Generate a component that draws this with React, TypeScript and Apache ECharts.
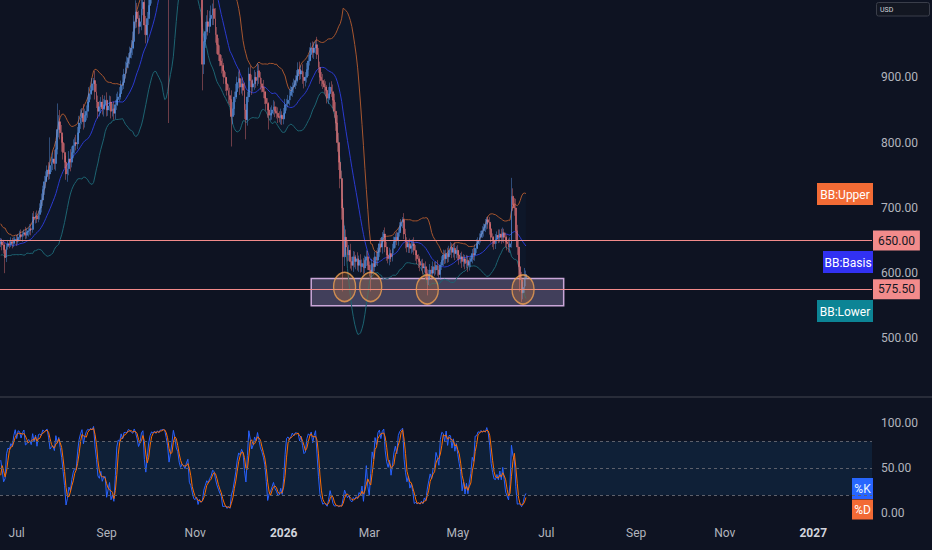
import React, { useEffect, useRef } from "react";
import * as echarts from "echarts";

// ---------- data ----------
const START_DATE = "2025-06-20";
const AXIS_DAYS = 601;

const PRE_CLOSE = [670, 675, 668, 662, 672, 665, 655, 650, 660, 648, 640, 652, 645, 635, 642, 655, 648, 638, 630, 645];
const PRE_HIGH = [678, 682, 677, 670, 678, 674, 666, 658, 666, 660, 650, 658, 654, 646, 650, 662, 658, 648, 640, 651];
const PRE_LOW = [662, 666, 660, 655, 660, 658, 650, 644, 648, 642, 634, 640, 638, 628, 632, 640, 640, 630, 622, 628];

const CLOSE = [
  648, 643, 636, 624, 641, 645, 644, 648, 646, 650,
  652, 649, 655, 659, 656, 660, 662, 658, 663, 665,
  668, 667, 686, 684, 688, 683, 690, 700, 712, 728,
  740, 748, 758, 752, 765, 770, 775, 768, 790, 820,
  832, 815, 800, 785, 770, 752, 760, 775, 770, 785,
  795, 800, 798, 815, 830, 838, 845, 832, 842, 848,
  862, 875, 880, 890, 895, 878, 862, 848, 855, 862,
  852, 858, 865, 850, 856, 862, 848, 852, 845, 858,
  866, 870, 875, 888, 892, 905, 915, 922, 930, 938,
  945, 955, 985, 1000, 990, 978, 985, 1005, 1015, 980,
  965, 990, 1010, 1025, 1040, 1055, 1080, 1110, 1150, 1170,
  1200, 1230, 1290, 1310, 1280, 1250, 1120, 1170, 1230, 1300,
  1260, 1200, 1180, 1120, 1090, 1110, 1100, 1080, 1110, 1130,
  1150, 1140, 1120, 1100, 1090, 1085, 1070, 1060, 1040, 920,
  955, 970, 985, 978, 990, 995, 1005, 990, 965, 950,
  935, 925, 918, 910, 900, 890, 880, 872, 866, 840,
  852, 870, 878, 892, 898, 885, 890, 880, 850, 835,
  870, 905, 895, 885, 890, 900, 895, 910, 900, 890,
  885, 878, 868, 860, 850, 842, 845, 850, 855, 848,
  845, 840, 838, 842, 836, 845, 858, 860, 865, 872,
  878, 885, 888, 895, 902, 912, 905, 910, 900, 895,
  900, 912, 925, 935, 945, 938, 945, 950, 935, 915,
  900, 895, 890, 885, 880, 868, 875, 885, 878, 865,
  848, 830, 800, 770, 745, 700, 625, 655, 640, 628,
  635, 618, 612, 625, 618, 622, 612, 620, 610, 615,
  608, 620, 625, 612, 605, 600, 615, 610, 625, 620,
  632, 645, 640, 655, 660, 640, 628, 622, 630, 625,
  638, 648, 655, 650, 662, 672, 678, 682, 660, 648,
  640, 645, 638, 642, 645, 635, 628, 622, 618, 612,
  615, 608, 610, 600, 590, 598, 605, 600, 610, 605,
  612, 605, 598, 612, 620, 628, 622, 630, 625, 635,
  640, 632, 638, 630, 635, 628, 622, 625, 618, 622,
  615, 620, 612, 618, 622, 630, 628, 638, 645, 650,
  655, 660, 665, 670, 675, 682, 678, 668, 655, 650,
  645, 652, 658, 655, 660, 655, 662, 655, 648, 645,
  640, 645, 718, 705, 700, 665, 640, 610, 590, 570,
  578, 592, 598,
];

const UPPER_WICK = [
  6, 5, 8, 10, 4, 6, 5, 7, 6, 5,
  4, 7, 5, 6, 8, 4, 5, 9, 6, 5,
  7, 8, 6, 9, 5, 8, 6, 7, 10, 6,
  9, 8, 7, 12, 43, 8, 10, 14, 12, 40,
  10, 18, 12, 9, 14, 10, 8, 12, 15, 9,
  10, 8, 12, 9, 11, 13, 8, 14, 10, 9,
  8, 10, 7, 9, 4, 15, 12, 10, 9, 8,
  11, 9, 7, 12, 8, 10, 9, 8, 11, 7,
  9, 8, 10, 7, 12, 8, 9, 10, 7, 9,
  12, 15, 10, 18, 14, 12, 10, 15, 12, 20,
  14, 10, 12, 15, 11, 14, 12, 20, 18, 25,
  20, 22, 25, 30, 24, 20, 10, 25, 30, 25,
  30, 25, 20, 28, 22, 18, 20, 25, 15, 18,
  20, 15, 18, 22, 16, 14, 18, 15, 20, 40,
  12, 15, 10, 18, 12, 15, 8, 14, 16, 12,
  10, 14, 9, 11, 12, 8, 10, 9, 12, 14,
  10, 8, 12, 9, 11, 14, 8, 10, 12, 9,
  8, 10, 12, 9, 7, 11, 8, 12, 10, 8,
  9, 11, 7, 10, 8, 12, 9, 7, 10, 8,
  7, 9, 8, 10, 6, 8, 9, 7, 8, 10,
  9, 7, 10, 8, 9, 11, 12, 8, 10, 9,
  8, 10, 9, 11, 8, 10, 9, 6, 12, 10,
  9, 8, 10, 7, 9, 8, 10, 7, 9, 11,
  10, 14, 12, 15, 10, 12, 14, 18, 12, 9,
  8, 10, 7, 9, 8, 6, 10, 7, 9, 6,
  8, 7, 10, 9, 6, 8, 7, 9, 8, 10,
  7, 6, 9, 8, 6, 10, 8, 7, 9, 6,
  7, 8, 6, 9, 7, 6, 5, 4, 10, 8,
  7, 6, 8, 9, 7, 10, 8, 6, 7, 8,
  6, 7, 5, 8, 6, 7, 9, 6, 8, 7,
  6, 8, 7, 5, 6, 8, 7, 6, 9, 7,
  8, 6, 7, 9, 6, 8, 7, 6, 8, 7,
  6, 8, 7, 6, 5, 7, 9, 6, 7, 5,
  6, 5, 7, 6, 8, 4, 5, 8, 7, 6,
  7, 8, 6, 9, 7, 8, 8, 6, 7, 10,
  8, 10, 28, 12, 10, 14, 9, 10, 8, 12,
  9, 16, 6,
];

const LOWER_WICK = [
  5, 8, 6, 24, 7, 5, 6, 4, 8, 6,
  5, 7, 4, 6, 5, 8, 4, 6, 5, 7,
  6, 9, 5, 7, 8, 6, 5, 8, 7, 9,
  8, 10, 7, 9, 8, 10, 12, 9, 11, 8,
  12, 10, 14, 11, 9, 9, 12, 10, 14, 8,
  9, 12, 10, 8, 11, 9, 10, 12, 9, 8,
  10, 8, 9, 7, 10, 12, 9, 11, 8, 10,
  9, 12, 8, 10, 9, 7, 11, 8, 10, 9,
  8, 10, 7, 9, 8, 10, 7, 9, 8, 10,
  9, 11, 12, 10, 14, 12, 11, 13, 10, 15,
  13, 12, 10, 14, 12, 10, 13, 15, 12, 18,
  15, 20, 18, 22, 25, 30, 290, 20, 18, 22,
  25, 30, 22, 28, 35, 20, 25, 22, 18, 20,
  15, 18, 20, 16, 22, 18, 15, 20, 18, 40,
  15, 10, 12, 14, 10, 12, 15, 10, 12, 14,
  10, 8, 12, 9, 10, 11, 8, 12, 9, 46,
  12, 10, 8, 11, 9, 12, 10, 8, 14, 30,
  9, 8, 10, 12, 7, 9, 11, 8, 10, 9,
  8, 10, 9, 11, 12, 22, 8, 10, 7, 9,
  8, 10, 7, 10, 9, 8, 7, 9, 6, 8,
  7, 8, 9, 6, 8, 10, 9, 8, 10, 12,
  9, 8, 10, 7, 9, 8, 10, 9, 7, 8,
  10, 9, 8, 10, 9, 8, 9, 10, 8, 12,
  10, 12, 14, 12, 15, 18, 53, 14, 12, 10,
  9, 11, 8, 10, 9, 12, 8, 10, 9, 8,
  10, 8, 9, 7, 10, 28, 8, 9, 7, 8,
  9, 7, 8, 10, 7, 8, 9, 7, 10, 8,
  7, 8, 9, 7, 8, 6, 7, 9, 8, 10,
  8, 9, 7, 8, 10, 7, 9, 8, 10, 9,
  8, 10, 7, 9, 24, 8, 7, 10, 8, 9,
  7, 9, 5, 8, 7, 9, 8, 7, 9, 8,
  7, 9, 8, 10, 7, 8, 9, 7, 10, 8,
  9, 7, 10, 8, 9, 7, 8, 9, 7, 8,
  7, 8, 6, 9, 7, 8, 10, 9, 8, 10,
  9, 8, 7, 9, 8, 10, 7, 9, 8, 10,
  8, 9, 6, 10, 12, 14, 12, 16, 18, 14,
  10, 8, 12,
];

const PRICE_TICKS = [500, 600, 700, 800, 900];
const STOCH_TICKS = [0, 50, 100];
const TIME_TICKS: [string, string][] = [
  ["2025-07-01", "Jul"], ["2025-09-01", "Sep"], ["2025-11-01", "Nov"], ["2026-01-01", "2026"],
  ["2026-03-01", "Mar"], ["2026-05-01", "May"], ["2026-07-01", "Jul"], ["2026-09-01", "Sep"],
  ["2026-11-01", "Nov"], ["2027-01-01", "2027"],
];
const LEVELS = [650, 575.5];
const SUPPORT_ZONE = { from: "2026-01-20", to: "2026-07-13", top: 592, bottom: 550 };
const TOUCHES: [string, number][] = [["2026-02-12", 579], ["2026-03-02", 579], ["2026-04-10", 575], ["2026-06-15", 575]];
const STOCH_LEVELS = [80, 50, 20];
const BB_LENGTH = 20;
const BB_MULT = 2;
const STOCH_K = 14;
const STOCH_D = 3;

// ---------- styles ----------
const BG = "#0e1322";
const FONT = "Roboto, 'Liberation Sans', sans-serif";
const AXIS_TEXT = "#b2b5be";

function buildDates(start: string, n: number): string[] {
  const [y, m, d] = start.split("-").map(Number);
  const out: string[] = [];
  for (let k = 0; k < n; k++) out.push(new Date(Date.UTC(y, m - 1, d + k)).toISOString().slice(0, 10));
  return out;
}

function tag(x: number, y: number, w: number, h: number, fill: string, text: string, color = "#ffffff") {
  return {
    type: "group", x, y, z: 100,
    children: [
      { type: "rect", shape: { x: 0, y: 0, width: w, height: h }, style: { fill } },
      { type: "text", x: w / 2, y: h / 2 + 0.5, style: { text, fill: color, fontSize: 12, fontFamily: FONT, align: "center", verticalAlign: "middle" } },
    ],
  };
}

function buildOption() {
  const cats = buildDates(START_DATE, AXIS_DAYS);
  const n = CLOSE.length;
  const opens = CLOSE.map((c, i) => (i === 0 ? PRE_CLOSE[PRE_CLOSE.length - 1] : CLOSE[i - 1]));
  const highs = CLOSE.map((c, i) => Math.max(opens[i], c) + (UPPER_WICK[i] || 0));
  const lows = CLOSE.map((c, i) => Math.min(opens[i], c) - (LOWER_WICK[i] || 0));
  const candles = CLOSE.map((c, i) => [opens[i], c, lows[i], highs[i]]);

  const allC = [...PRE_CLOSE, ...CLOSE];
  const allH = [...PRE_HIGH, ...highs];
  const allL = [...PRE_LOW, ...lows];
  const off = PRE_CLOSE.length;

  const upper: number[] = [], basis: number[] = [], lower: number[] = [], width: number[] = [];
  for (let i = 0; i < n; i++) {
    const idx = i + off;
    const w = allC.slice(Math.max(0, idx - BB_LENGTH + 1), idx + 1);
    const mean = w.reduce((a, b) => a + b, 0) / w.length;
    const sd = Math.sqrt(w.reduce((a, b) => a + (b - mean) * (b - mean), 0) / w.length);
    basis.push(mean);
    upper.push(mean + BB_MULT * sd);
    lower.push(mean - BB_MULT * sd);
    width.push(2 * BB_MULT * sd);
  }

  const kAll: number[] = [];
  for (let idx = 0; idx < allC.length; idx++) {
    const s = Math.max(0, idx - STOCH_K + 1);
    const hh = Math.max(...allH.slice(s, idx + 1));
    const ll = Math.min(...allL.slice(s, idx + 1));
    kAll.push(hh === ll ? 50 : (100 * (allC[idx] - ll)) / (hh - ll));
  }
  const kVis: number[] = [], dVis: number[] = [];
  for (let i = 0; i < n; i++) {
    const idx = i + off;
    kVis.push(kAll[idx]);
    const win = kAll.slice(idx - STOCH_D + 1, idx + 1);
    dVis.push(win.reduce((a, b) => a + b, 0) / win.length);
  }

  const tickMap = new Map(TIME_TICKS);

  return {
    animation: false,
    backgroundColor: BG,
    textStyle: { fontFamily: FONT },
    grid: [
      { left: 0, right: 60, top: 0, height: 396, containLabel: false, outerBoundsMode: "none" },
      { left: 0, right: 60, top: 398, height: 120, containLabel: false, outerBoundsMode: "none" },
    ],
    xAxis: [
      { type: "category", gridIndex: 0, data: cats, boundaryGap: true, show: false },
      {
        type: "category", gridIndex: 1, data: cats, boundaryGap: true,
        axisLine: { show: false }, axisTick: { show: false }, splitLine: { show: false },
        axisLabel: {
          interval: (_i: number, v: string) => tickMap.has(v),
          formatter: (v: string) => {
            const t = tickMap.get(v) || "";
            return /^\d{4}$/.test(t) ? `{y|${t}}` : t;
          },
          color: AXIS_TEXT, fontSize: 12, fontFamily: FONT, margin: 9,
          rich: { y: { fontWeight: "bold", color: "#d1d4dc", fontSize: 12, fontFamily: FONT } },
        },
      },
    ],
    yAxis: [
      {
        type: "value", gridIndex: 0, position: "right", min: 411.9, max: 1018.4,
        axisLine: { show: false }, axisTick: { show: false }, splitLine: { show: false },
        axisLabel: { customValues: PRICE_TICKS, formatter: (v: number) => v.toFixed(2), color: AXIS_TEXT, fontSize: 12, fontFamily: FONT, margin: 9 },
      },
      {
        type: "value", gridIndex: 1, position: "right", min: -5.2, max: 128.1,
        axisLine: { show: false }, axisTick: { show: false }, splitLine: { show: false },
        axisLabel: { customValues: STOCH_TICKS, formatter: (v: number) => v.toFixed(2), color: AXIS_TEXT, fontSize: 12, fontFamily: FONT, margin: 9 },
      },
    ],
    series: [
      {
        type: "line", name: "bbBase", xAxisIndex: 0, yAxisIndex: 0, data: lower, stack: "bb",
        symbol: "none", lineStyle: { opacity: 0 }, silent: true, z: 1,
      },
      {
        type: "line", name: "bbFill", xAxisIndex: 0, yAxisIndex: 0, data: width, stack: "bb",
        symbol: "none", lineStyle: { opacity: 0 }, areaStyle: { color: "rgba(33,150,243,0.05)" }, silent: true, z: 1,
      },
      { type: "line", name: "BB Upper", xAxisIndex: 0, yAxisIndex: 0, data: upper, symbol: "none", lineStyle: { color: "#a8562e", width: 1 }, silent: true, z: 2 },
      { type: "line", name: "BB Basis", xAxisIndex: 0, yAxisIndex: 0, data: basis, symbol: "none", lineStyle: { color: "#2a3ad0", width: 1 }, silent: true, z: 2 },
      { type: "line", name: "BB Lower", xAxisIndex: 0, yAxisIndex: 0, data: lower, symbol: "none", lineStyle: { color: "#1d6472", width: 1 }, silent: true, z: 2 },
      {
        type: "candlestick", name: "price", xAxisIndex: 0, yAxisIndex: 0, data: candles, barWidth: "95%", z: 3,
        itemStyle: {
          color: "#5f9cf3", color0: "#f2797d",
          borderColor: "rgba(95,156,243,0.7)", borderColor0: "rgba(242,121,125,0.7)", borderWidth: 0.6,
        },
        markLine: {
          silent: true, symbol: ["none", "none"], emphasis: { disabled: true },
          lineStyle: { color: "#f28b8b", width: 1.2, type: "solid" },
          label: {
            show: true, position: "end", distance: 1,
            formatter: (p: any) => Number(p.value).toFixed(2),
            backgroundColor: "#f28b8b", color: "#131722", padding: [4, 5, 4, 5], fontSize: 12, fontFamily: FONT,
          },
          data: LEVELS.map((v) => ({ yAxis: v })),
        },
      },
      {
        type: "scatter", name: "touches", xAxisIndex: 0, yAxisIndex: 0, data: TOUCHES, z: 5, silent: true,
        symbol: "circle", symbolSize: [22, 29],
        itemStyle: { color: "rgba(240,140,50,0.28)", borderColor: "#f0a050", borderWidth: 1.5 },
        markArea: {
          silent: true,
          itemStyle: { color: "rgba(175,160,210,0.32)", borderColor: "#c9a6d8", borderWidth: 1.5 },
          data: [[{ xAxis: SUPPORT_ZONE.from, yAxis: SUPPORT_ZONE.top }, { xAxis: SUPPORT_ZONE.to, yAxis: SUPPORT_ZONE.bottom }]],
        },
      },
      {
        type: "line", name: "%K", xAxisIndex: 1, yAxisIndex: 1, data: kVis, symbol: "none",
        lineStyle: { color: "#2962ff", width: 1 }, silent: true, z: 3,
        markArea: {
          silent: true, itemStyle: { color: "rgba(33,150,243,0.1)" },
          data: [[{ yAxis: STOCH_LEVELS[2] }, { yAxis: STOCH_LEVELS[0] }]],
        },
        markLine: {
          silent: true, symbol: ["none", "none"], label: { show: false }, emphasis: { disabled: true },
          lineStyle: { color: "#5d606b", width: 1, type: [3, 3] },
          data: STOCH_LEVELS.map((v) => ({ yAxis: v })),
        },
      },
      {
        type: "line", name: "%D", xAxisIndex: 1, yAxisIndex: 1, data: dVis, symbol: "none",
        lineStyle: { color: "#ff6d00", width: 1 }, silent: true, z: 4,
      },
    ],
    graphic: [
      { type: "line", shape: { x1: 0, y1: 397, x2: 932, y2: 397 }, style: { stroke: "#434651", lineWidth: 1 }, z: 50 },
      { type: "rect", shape: { x: 876.5, y: 2.5, width: 53, height: 13.5, r: 2 }, style: { fill: "#131722", stroke: "#3a3e4a", lineWidth: 1 }, z: 50 },
      { type: "text", x: 880, y: 9.5, style: { text: "USD", fill: "#d1d4dc", fontSize: 7, fontFamily: FONT, verticalAlign: "middle" }, z: 51 },
      tag(817, 183, 56, 22, "#f26b35", "BB:Upper"),
      tag(823, 251, 50, 22, "#3131f2", "BB:Basis"),
      tag(817, 300, 56, 22, "#0c8495", "BB:Lower"),
      tag(852, 478, 21, 21, "#2962ff", "%K"),
      tag(852, 499.5, 21, 20, "#f26a35", "%D"),
    ],
  };
}

export default function App() {
  const ref = useRef<HTMLDivElement>(null);
  useEffect(() => {
    if (!ref.current) return;
    const chart = echarts.init(ref.current, null, { renderer: "svg" });
    chart.setOption(buildOption() as any);
    return () => chart.dispose();
  }, []);
  return <div ref={ref} style={{ position: "fixed", left: 0, top: 0, width: 932, height: 550, background: BG }} />;
}
